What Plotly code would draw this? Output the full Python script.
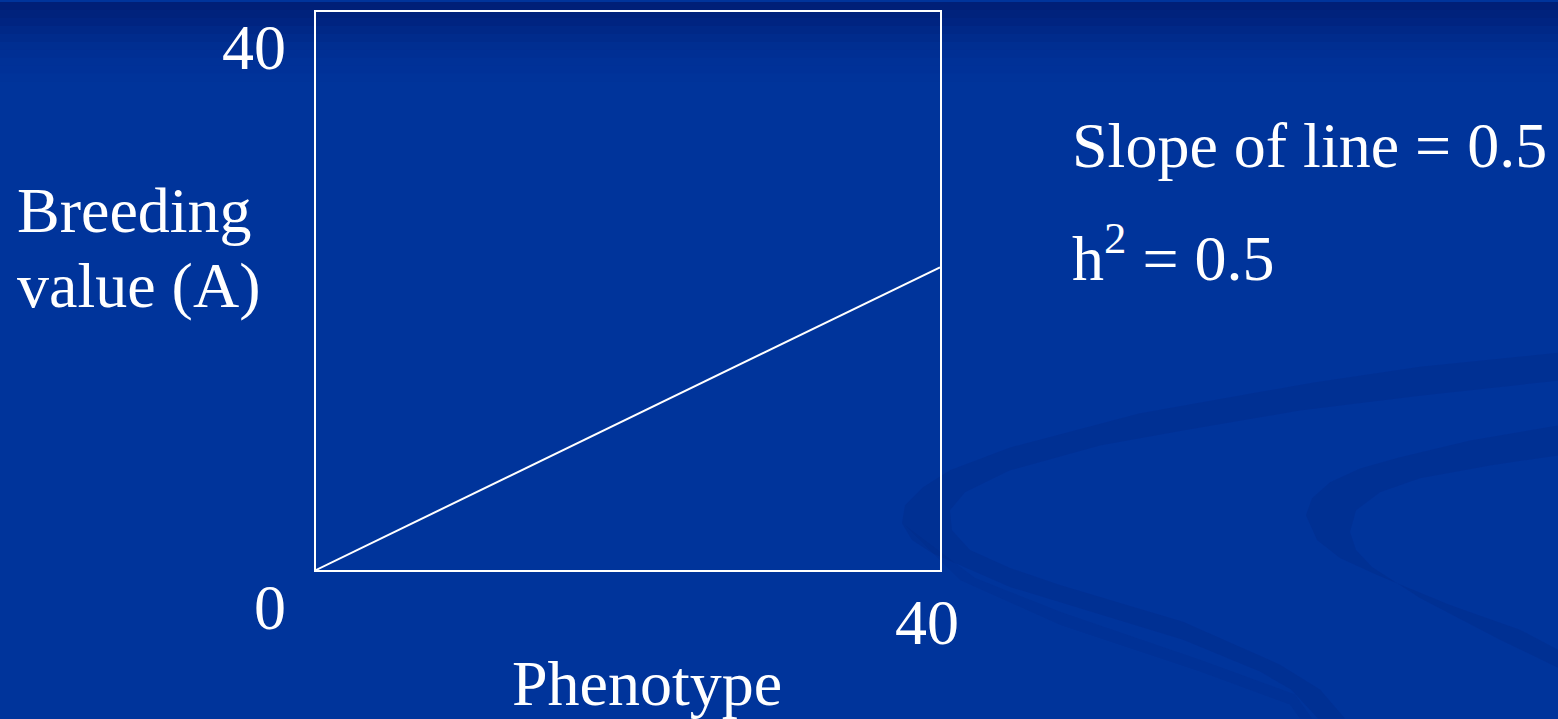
import plotly.graph_objects as go

# Data
phenotype = [0, 40]
breeding_value = [0, 21.7]
x_ticks = ["0", "40"]
y_ticks = ["0", "40"]
x_title = "Phenotype"
y_title_lines = ["Breeding", "value (A)"]
notes = ["Slope of line = 0.5", "h<sup>2</sup> = 0.5"]

W, H = 1558, 719
L, R, T, B = 316, 940, 10, 570

def px(x):
    return (x - L) / (R - L)

def py(y):
    return (B - y) / (B - T)

FONT = "Liberation Serif, Times New Roman, serif"
fs = 64
BG = "#00349b"

fig = go.Figure()
fig.add_trace(go.Scatter(x=phenotype, y=breeding_value, mode="lines",
                         line=dict(color="white", width=2), hoverinfo="skip",
                         showlegend=False))

def ann(text, x, y, xanchor="center", yanchor="middle", size=fs):
    fig.add_annotation(text=text, x=px(x), y=py(y), xref="paper", yref="paper",
                       xanchor=xanchor, yanchor=yanchor, showarrow=False,
                       font=dict(family=FONT, size=size, color="white"),
                       align="left")

ann(y_ticks[1], 288, 46, xanchor="right")
ann(y_ticks[0], 288, 608, xanchor="right")
ann(x_ticks[1], 927, 623)
ann(x_title, 647, 684)
ann(y_title_lines[0], 15, 209, xanchor="left")
ann(y_title_lines[1], 15, 284, xanchor="left")
ann(notes[0], 1070, 144, xanchor="left")
ann(notes[1], 1070, 252, xanchor="left")

# decorative background: darker top band and faint swirls
shapes = []
for i, op in enumerate([0.16, 0.13, 0.11, 0.09, 0.07, 0.055, 0.04, 0.03, 0.02, 0.01]):
    shapes.append(dict(type="rect", xref="paper", yref="paper", layer="below",
                       x0=px(0), x1=px(W), y0=py(0), y1=py(8 * (i + 1)),
                       fillcolor="rgba(0,20,90,%.3f)" % op, line=dict(width=0)))

def path(points):
    s = "M %.4f,%.4f" % (px(points[0][0]), py(points[0][1]))
    for (a, b) in points[1:]:
        s += " L %.4f,%.4f" % (px(a), py(b))
    return s + " Z"

band1 = [(1558, 352), (1420, 366), (1312, 382), (1139, 413), (1010, 447), (950, 470),
         (923, 487), (905, 505), (902, 523), (912, 540), (932, 553), (1010, 587),
         (1183, 640), (1260, 672), (1291, 690), (1318, 719),
         (1345, 719), (1320, 690), (1280, 665), (1183, 622), (1060, 585), (1010, 568),
         (970, 550), (952, 530), (950, 510), (965, 492), (1010, 470), (1100, 445),
         (1183, 430), (1300, 410), (1420, 395), (1558, 380)]
band2 = [(1558, 425), (1470, 440), (1399, 457), (1360, 468), (1330, 482), (1312, 498),
         (1306, 515), (1317, 540), (1340, 558), (1377, 575), (1450, 605), (1520, 630),
         (1558, 650), (1558, 668), (1500, 640), (1420, 598), (1372, 567), (1356, 550),
         (1350, 532), (1356, 510), (1380, 492), (1420, 478), (1490, 465), (1558, 455)]
band3 = [(905, 525), (960, 580), (1060, 625), (1200, 672), (1290, 705), (1300, 719),
         (1312, 719), (1295, 695), (1200, 660), (1060, 612), (975, 578)]
for pts, op in [(band1, 0.17), (band2, 0.17), (band3, 0.10)]:
    shapes.append(dict(type="path", xref="paper", yref="paper", layer="below",
                       path=path(pts), fillcolor="rgba(0,30,110,%.2f)" % op,
                       line=dict(width=0)))

fig.update_layout(
    width=W, height=H,
    margin=dict(l=L, r=W - R, t=T, b=H - B, pad=0),
    paper_bgcolor=BG,
    plot_bgcolor="rgba(0,0,0,0)",
    shapes=shapes,
    xaxis=dict(range=[0, 40], showgrid=False, zeroline=False, showticklabels=False,
               ticks="", showline=True, mirror=True, linecolor="white", linewidth=2),
    yaxis=dict(range=[0, 40], showgrid=False, zeroline=False, showticklabels=False,
               ticks="", showline=True, mirror=True, linecolor="white", linewidth=2),
)

fig.write_html("out.html", config={"displayModeBar": False},
               post_script="document.body.style.margin='0';document.body.style.overflow='hidden';")
